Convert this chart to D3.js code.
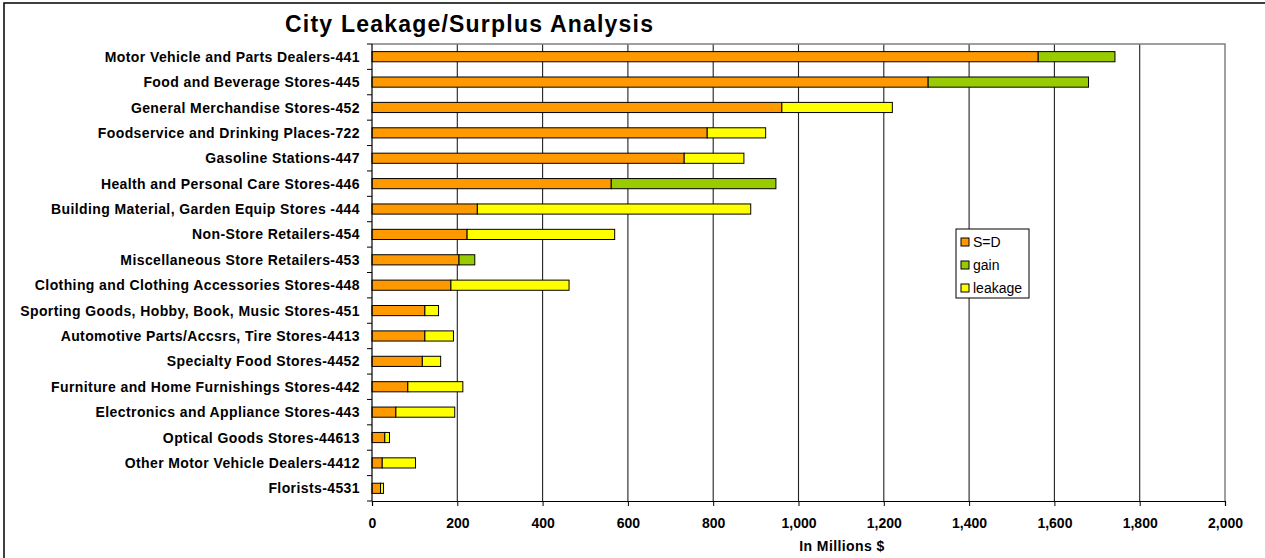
<!DOCTYPE html>
<html>
<head>
<meta charset="utf-8">
<script src="https://cdn.jsdelivr.net/npm/d3@7"></script>
<style>
  body { margin: 0; background: #fff; }
  text { font-family: Arial, "Liberation Sans", sans-serif; }
  .title { font-weight: bold; font-size: 23px; }
  .cat text { font-weight: bold; font-size: 14px; letter-spacing: 0.4px; fill: #000; }
  .ejeX text { font-weight: bold; font-size: 14px; fill: #000; }
</style>
</head>
<body>
<svg id="svgLeakage" width="1265" height="558"></svg>
<script>
// categories top to bottom
var categorias = [
  "Motor Vehicle and Parts Dealers-441",
  "Food and Beverage Stores-445",
  "General Merchandise Stores-452",
  "Foodservice and Drinking Places-722",
  "Gasoline Stations-447",
  "Health and Personal Care Stores-446",
  "Building Material, Garden Equip Stores -444",
  "Non-Store Retailers-454",
  "Miscellaneous Store Retailers-453",
  "Clothing and Clothing Accessories Stores-448",
  "Sporting Goods, Hobby, Book, Music Stores-451",
  "Automotive Parts/Accsrs, Tire Stores-4413",
  "Specialty Food Stores-4452",
  "Furniture and Home Furnishings Stores-442",
  "Electronics and Appliance Stores-443",
  "Optical Goods Stores-44613",
  "Other Motor Vehicle Dealers-4412",
  "Florists-4531"
];
// In Millions $
var sd      = [1562, 1304, 961, 786, 732, 561, 247, 223, 204, 185, 124, 124, 118, 84, 56, 30, 24, 20];
var gain    = [180,  376,  0,   0,   0,   386, 0,   0,   37,  0,   0,   0,   0,   0,  0,  0,  0,  0];
var leakage = [0,    0,    259, 137, 140, 0,   641, 346, 0,   277, 32,  67,  43,  129, 138, 11, 78, 7];

var series = ["S=D", "gain", "leakage"];
var colores = ["#FF9900", "#99CC00", "#FFFF00"];
var ticksX = [0, 200, 400, 600, 800, 1000, 1200, 1400, 1600, 1800, 2000];

function dibujarGrafico(){
    var svg = d3.select("#svgLeakage"),
        left = 372, right = 1225, top = 44, bottom = 501;

    // outer frame
    svg.append("rect")
       .attr("x", 4).attr("y", 3)
       .attr("width", 1270).attr("height", 570)
       .attr("fill", "none").attr("stroke", "#000").attr("stroke-width", 1.5);

    svg.append("text")
       .attr("class", "title")
       .attr("x", 285)
       .attr("y", 32)
       .attr("textLength", 368)
       .attr("lengthAdjust", "spacing")
       .text("City Leakage/Surplus Analysis");

    var x = d3.scaleLinear().domain([0, 2000]).range([left, right]),
        y = d3.scaleBand().domain(categorias).range([top, bottom]).paddingInner(0.6).paddingOuter(0.3);

    // gridlines
    svg.append("g").selectAll("line")
       .data(ticksX.slice(1, -1))
       .enter().append("line")
       .attr("x1", function(d) { return x(d); })
       .attr("x2", function(d) { return x(d); })
       .attr("y1", top).attr("y2", bottom)
       .attr("stroke", "#222").attr("stroke-width", 1.1);

    // plot border top/right (gray)
    svg.append("path")
       .attr("d", "M" + left + "," + top + "H" + right + "V" + bottom)
       .attr("fill", "none").attr("stroke", "#808080").attr("stroke-width", 1.5);

    var filas = categorias.map(function(c, i) {
        return { cat: c, "S=D": sd[i], gain: gain[i], leakage: leakage[i] };
    });
    var stack = d3.stack().keys(series)(filas);

    var capas = svg.append("g").selectAll("g")
       .data(stack)
       .enter().append("g")
       .attr("fill", function(d, i) { return colores[i]; });

    capas.selectAll("rect")
       .data(function(d) { return d.filter(function(v) { return v[1] > v[0]; }); })
       .enter().append("rect")
       .attr("x", function(d) { return x(d[0]); })
       .attr("y", function(d) { return y(d.data.cat); })
       .attr("width", function(d) { return x(d[1]) - x(d[0]); })
       .attr("height", y.bandwidth())
       .attr("stroke", "#000")
       .attr("stroke-width", 1);

    // y axis with ticks between categories
    var ejeY = svg.append("g").attr("class", "cat");
    ejeY.append("line")
        .attr("x1", left).attr("x2", left)
        .attr("y1", top).attr("y2", bottom)
        .attr("stroke", "#000").attr("stroke-width", 1.2);
    var paso = (bottom - top) / categorias.length;
    ejeY.selectAll(".tk")
        .data(d3.range(categorias.length + 1))
        .enter().append("line")
        .attr("x1", left - 5).attr("x2", left)
        .attr("y1", function(d) { return top + d * paso; })
        .attr("y2", function(d) { return top + d * paso; })
        .attr("stroke", "#000");
    ejeY.selectAll("text")
        .data(categorias)
        .enter().append("text")
        .attr("x", 360)
        .attr("y", function(d) { return y(d) + y.bandwidth() / 2; })
        .attr("dy", "0.36em")
        .attr("text-anchor", "end")
        .text(function(d) { return d; });

    // x axis
    var ejeX = svg.append("g")
       .attr("class", "ejeX")
       .attr("transform", "translate(0," + bottom + ")")
       .call(d3.axisBottom(x).tickValues(ticksX).tickSize(5).tickPadding(12)
             .tickFormat(d3.format(",")));
    ejeX.select(".domain").attr("stroke", "#000").attr("stroke-width", 1.2);
    ejeX.selectAll(".tick line").attr("stroke", "#000");
    ejeX.selectAll("text").attr("font-family", "Arial, 'Liberation Sans', sans-serif");

    svg.append("text")
       .attr("x", 842)
       .attr("y", 551)
       .attr("text-anchor", "middle")
       .attr("font-weight", "bold")
       .attr("font-size", "14px")
       .attr("letter-spacing", "0.4px")
       .text("In Millions $");

    // legend
    var leyenda = svg.append("g").attr("transform", "translate(956,229)");
    leyenda.append("rect")
       .attr("width", 73).attr("height", 69)
       .attr("fill", "#fff").attr("stroke", "#000");
    var item = leyenda.selectAll(".item")
       .data(series)
       .enter().append("g")
       .attr("class", "item")
       .attr("transform", function(d, i) { return "translate(5," + (13 + i * 23) + ")"; });
    item.append("rect")
       .attr("x", 0).attr("y", -4)
       .attr("width", 8).attr("height", 8)
       .attr("fill", function(d, i) { return colores[i]; })
       .attr("stroke", "#000");
    item.append("text")
       .attr("x", 12)
       .attr("y", 0)
       .attr("dy", "0.36em")
       .attr("font-size", "14px")
       .text(function(d) { return d; });
}

dibujarGrafico();
</script>
</body>
</html>
